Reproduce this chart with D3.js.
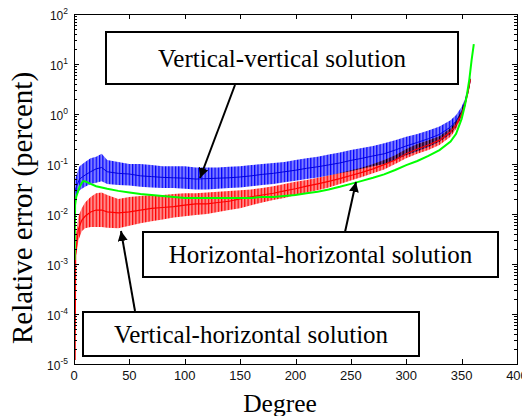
<!DOCTYPE html>
<html><head><meta charset="utf-8">
<script src="https://cdnjs.cloudflare.com/ajax/libs/d3/7.8.5/d3.min.js"></script>
<style>body{margin:0;background:#fff}svg{display:block}</style>
</head><body><svg id="c" width="522" height="416"></svg>
<script>
// ---- data ----
const xTicks = [0,50,100,150,200,250,300,350,400];
const yMajor = [1e-5,1e-4,1e-3,1e-2,1e-1,1e0,1e1,1e2];
const yExp = ["-5","-4","-3","-2","-1","0","1","2"];

const bandDeg = [1,5,10,15,20,25,30,40,50,60,70,80,90,100,110,120,130,140,150,160,170,180,190,200,210,220,230,240,250,260,270,280,290,300,310,320,330,340,345,350,353,356,358];
const blueHi = [0.05,0.09,0.11,0.13,0.14,0.16,0.12,0.11,0.10,0.10,0.095,0.09,0.09,0.09,0.085,0.085,0.085,0.088,0.09,0.095,0.10,0.105,0.11,0.12,0.13,0.14,0.155,0.17,0.19,0.21,0.23,0.26,0.30,0.35,0.40,0.47,0.56,0.75,0.95,1.4,2.0,3.5,5.5];
const blueLo = [0.02,0.03,0.035,0.04,0.042,0.045,0.04,0.038,0.037,0.035,0.034,0.033,0.033,0.032,0.031,0.031,0.032,0.033,0.034,0.036,0.038,0.04,0.043,0.046,0.05,0.054,0.059,0.065,0.072,0.08,0.09,0.10,0.12,0.15,0.18,0.22,0.28,0.40,0.55,0.9,1.4,2.6,4.5];
const blueMidDeg = [0,1,5,10,15,20,25,30,40,50,60,70,80,90,100,110,120,130,140,150,160,170,180,190,200,210,220,230,240,250,260,270,280,290,300,310,320,330,340,345,350,353,356,358];
const blueMid = [0.018,0.03,0.05,0.06,0.07,0.08,0.085,0.07,0.065,0.063,0.058,0.056,0.054,0.053,0.052,0.05,0.051,0.052,0.053,0.055,0.058,0.062,0.065,0.07,0.075,0.082,0.088,0.096,0.105,0.118,0.13,0.145,0.16,0.19,0.23,0.27,0.32,0.39,0.55,0.72,1.1,1.7,3.0,5.0];

const redDeg = [2,4,7,10,15,20,25,30,40,50,60,70,80,90,100,110,120,130,140,150,160,170,180,190,200,210,220,230,240,250,260,270,280,290,300,310,320,330,340,345,350,353,356,358];
const redHi = [0.004,0.009,0.013,0.017,0.022,0.026,0.027,0.024,0.02,0.022,0.023,0.024,0.024,0.025,0.026,0.026,0.027,0.028,0.029,0.03,0.031,0.033,0.036,0.04,0.044,0.048,0.053,0.059,0.066,0.075,0.085,0.1,0.12,0.15,0.2,0.25,0.3,0.36,0.52,0.72,1.2,1.9,3.4,5.5];
const redLo = [0.0015,0.003,0.0045,0.0052,0.0055,0.0055,0.0055,0.0053,0.0052,0.0058,0.0065,0.0072,0.0078,0.0085,0.009,0.0095,0.01,0.011,0.012,0.013,0.015,0.017,0.019,0.021,0.024,0.027,0.03,0.034,0.04,0.047,0.055,0.065,0.078,0.1,0.13,0.16,0.19,0.24,0.35,0.5,0.85,1.35,2.5,4.5];
const redMidDeg = [1,1.5,2.5,4,7,10,15,20,25,30,40,50,60,70,80,90,100,110,120,130,140,150,160,170,180,190,200,210,220,230,240,250,260,270,280,290,300,310,320,330,340,345,350,353,356,358];
const redMid = [1.2e-5,0.0015,0.0025,0.005,0.0075,0.009,0.011,0.012,0.012,0.011,0.0105,0.011,0.012,0.013,0.0135,0.014,0.015,0.016,0.016,0.017,0.018,0.02,0.022,0.024,0.026,0.029,0.032,0.036,0.04,0.045,0.051,0.059,0.068,0.08,0.097,0.12,0.16,0.2,0.24,0.3,0.44,0.6,1.0,1.6,2.9,5.0];

const greenDeg = [0.6,1,2,5,8,10,15,20,25,30,40,50,60,70,80,90,100,110,120,130,140,150,160,170,180,190,200,210,220,230,240,250,260,270,280,290,300,310,320,330,340,345,350,353,355,357,359,361];
const greenVal = [0.0012,0.015,0.022,0.035,0.045,0.045,0.04,0.036,0.034,0.032,0.029,0.027,0.025,0.024,0.023,0.022,0.021,0.021,0.021,0.021,0.021,0.021,0.021,0.022,0.022,0.023,0.024,0.026,0.028,0.031,0.035,0.04,0.046,0.053,0.062,0.076,0.095,0.115,0.145,0.19,0.28,0.4,0.8,1.5,2.6,5,12,25];

const labels = ["Vertical-vertical solution","Horizontal-horizontal solution","Vertical-horizontal solution"];

// ---- layout ----
const svg = d3.select("#c");
const L=74,R=517,T=14,B=364;
const x = d3.scaleLinear().domain([0,400]).range([L,R]);
const y = d3.scaleLog().domain([1e-5,1e2]).range([B,T]);
const sans = "'Liberation Sans', Arial, sans-serif";
const serif = "'Liberation Serif', 'Times New Roman', serif";

const defs = svg.append("defs");
defs.append("clipPath").attr("id","clip").append("rect").attr("x",L).attr("y",T).attr("width",R-L).attr("height",B-T);
function pat(id,bg,fg){
  const p = defs.append("pattern").attr("id",id).attr("patternUnits","userSpaceOnUse").attr("width",3.3).attr("height",20);
  p.append("rect").attr("width",3.3).attr("height",20).attr("fill",bg);
  p.append("rect").attr("width",1.2).attr("height",20).attr("fill",fg);
}
pat("pb","#7c7cff","#0000ff");
pat("pr","#ff8a8a","#ff0000");
defs.append("marker").attr("id","ah").attr("viewBox","0 0 10 10").attr("refX",10).attr("refY",5)
  .attr("markerWidth",5).attr("markerHeight",5).attr("orient","auto").attr("markerUnits","strokeWidth")
  .append("path").attr("d","M0,0L10,5L0,10z").attr("fill","#000");

const plot = svg.append("g").attr("clip-path","url(#clip)");
const area = (deg,lo,hi)=>d3.area().x((d,i)=>x(deg[i])).y0((d,i)=>y(lo[i])).y1((d,i)=>y(hi[i]))(deg);
const line = (deg,v)=>d3.line().x((d,i)=>x(deg[i])).y((d,i)=>y(v[i]))(deg);

plot.append("path").attr("d",area(bandDeg,blueLo,blueHi)).attr("fill","url(#pb)");
plot.append("path").attr("d",line(blueMidDeg,blueMid)).attr("fill","none").attr("stroke","#0000e0").attr("stroke-width",1);
plot.append("path").attr("d",area(redDeg,redLo,redHi)).attr("fill","url(#pr)").style("mix-blend-mode","multiply");
plot.append("path").attr("d",line(redMidDeg,redMid)).attr("fill","none").attr("stroke","#ff0000").attr("stroke-width",1.2);
plot.append("path").attr("d",line(greenDeg,greenVal)).attr("fill","none").attr("stroke","#00ff00").attr("stroke-width",2);

// ---- axes frame and ticks ----
const ax = svg.append("g").attr("stroke","#000").attr("stroke-width",1).attr("shape-rendering","crispEdges");
ax.append("rect").attr("x",L+0.5).attr("y",T+0.5).attr("width",R-L).attr("height",B-T).attr("fill","none");
xTicks.forEach(t=>{
  const px = Math.round(x(t))+0.5;
  ax.append("line").attr("x1",px).attr("x2",px).attr("y1",B).attr("y2",B-5);
  ax.append("line").attr("x1",px).attr("x2",px).attr("y1",T).attr("y2",T+5);
});
y.ticks().forEach(t=>{
  const major = yMajor.some(m=>Math.abs(Math.log10(m)-Math.log10(t))<1e-6);
  const len = major?5:3;
  const py = Math.round(y(t))+0.5;
  ax.append("line").attr("x1",L).attr("x2",L+len).attr("y1",py).attr("y2",py);
  ax.append("line").attr("x1",R).attr("x2",R-len).attr("y1",py).attr("y2",py);
});
svg.append("g").selectAll("text").data(xTicks).join("text")
  .attr("x",d=>x(d)).attr("y",380).attr("text-anchor","middle")
  .attr("font-family",sans).attr("font-size",13).attr("fill","#111").text(d=>d);
const yl = svg.append("g").selectAll("text").data(yMajor).join("text")
  .attr("x",68).attr("y",d=>y(d)+6).attr("text-anchor","end")
  .attr("font-family",sans).attr("font-size",12).attr("fill","#111");
yl.append("tspan").text("10");
yl.append("tspan").attr("dy",-6).attr("font-size",8.5).text((d,i)=>yExp[i]);

svg.append("text").attr("transform","translate(32,208) rotate(-90)").attr("text-anchor","middle")
  .attr("font-family",serif).attr("font-size",29).text("Relative error (percent)");
svg.append("text").attr("x",280).attr("y",412).attr("text-anchor","middle")
  .attr("font-family",serif).attr("font-size",25.5).text("Degree");

// ---- annotations ----
const arrows = [[235,85,200,178],[345,232,356,182],[135,311,121,231]];
arrows.forEach(a=>svg.append("line").attr("x1",a[0]).attr("y1",a[1]).attr("x2",a[2]).attr("y2",a[3])
  .attr("stroke","#000").attr("stroke-width",2).attr("marker-end","url(#ah)"));
const boxes = [[106,32,458,84,67],[143,232,498,277,263],[83,312,419,356,343]];
boxes.forEach((b,i)=>{
  svg.append("rect").attr("x",b[0]).attr("y",b[1]).attr("width",b[2]-b[0]).attr("height",b[3]-b[1])
    .attr("fill","#fff").attr("stroke","#000").attr("stroke-width",2);
  svg.append("text").attr("x",(b[0]+b[2])/2).attr("y",b[4]).attr("text-anchor","middle")
    .attr("font-family",serif).attr("font-size",25).text(labels[i]);
});
</script></body></html>
